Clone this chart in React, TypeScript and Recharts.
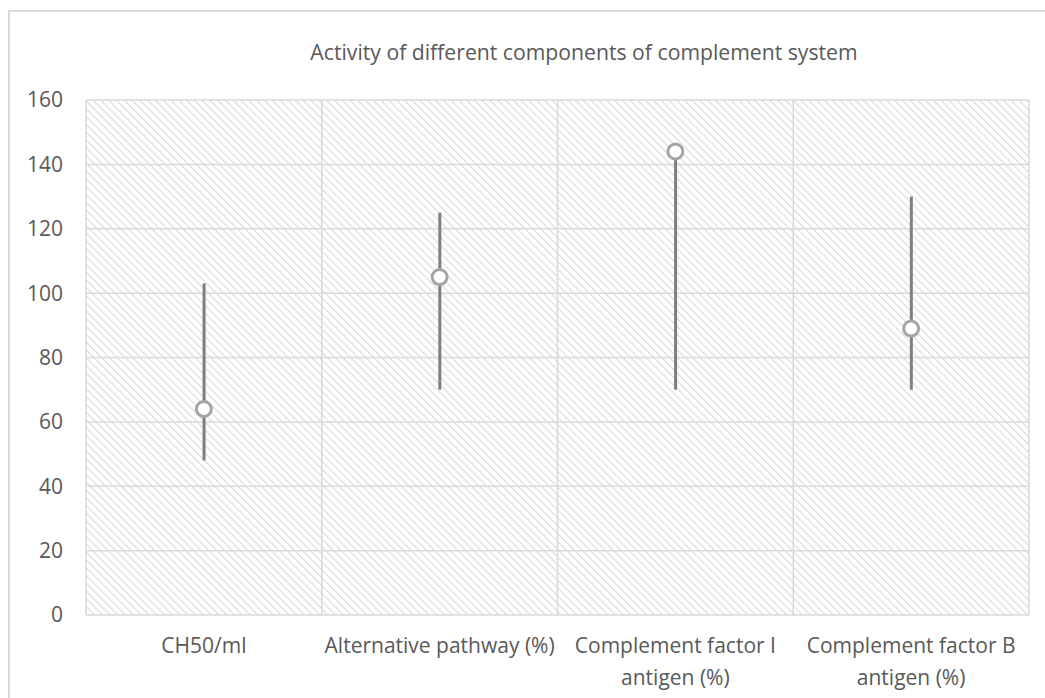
import React from 'react';
import { ComposedChart, Bar, Line, XAxis, YAxis, CartesianGrid } from 'recharts';

const categories = [
  'CH50/ml',
  'Alternative pathway (%)',
  'Complement factor I antigen (%)',
  'Complement factor B antigen (%)',
];
const highValues = [103, 125, 144, 130];
const lowValues = [48, 70, 70, 70];
const meanValues = [64, 105, 144, 89];
const yTicks = [0, 20, 40, 60, 80, 100, 120, 140, 160];

const data = categories.map((name, i) => ({
  name,
  range: [lowValues[i], highValues[i]],
  mean: meanValues[i],
}));

const FONT = "'Open Sans', sans-serif";
const TEXT_COLOR = '#595959';
const GRID_COLOR = '#d9d9d9';
const TICK_SIZE = 21;

let measureCtx: CanvasRenderingContext2D | null = null;
const measure = (s: string) => {
  if (!measureCtx) {
    const c = document.createElement('canvas');
    measureCtx = c.getContext('2d');
  }
  if (!measureCtx) return s.length * TICK_SIZE * 0.5;
  measureCtx.font = `${TICK_SIZE}px 'Open Sans'`;
  return measureCtx.measureText(s).width;
};

const wrap = (s: string, maxW: number) => {
  const words = s.split(' ');
  const lines: string[] = [];
  let cur = '';
  words.forEach((w) => {
    const trial = cur ? cur + ' ' + w : w;
    if (cur && measure(trial) > maxW) {
      lines.push(cur);
      cur = w;
    } else {
      cur = trial;
    }
  });
  if (cur) lines.push(cur);
  return lines;
};

const HighLowShape = (props: any) => {
  const { x, y, width, height } = props;
  if (x == null || y == null) return null;
  const cx = x + width / 2;
  const top = Math.min(y, y + height);
  const bottom = Math.max(y, y + height);
  return <line x1={cx} x2={cx} y1={top} y2={bottom} stroke="#7f7f7f" strokeWidth={3} />;
};

const CategoryTick = (props: any) => {
  const { x, y, payload } = props;
  const lines = wrap(String(payload.value), 240);
  return (
    <text
      x={x}
      y={y}
      textAnchor="middle"
      fill={TEXT_COLOR}
      style={{ fontSize: TICK_SIZE, fontFamily: FONT }}
    >
      {lines.map((l, i) => (
        <tspan key={i} x={x} dy={i === 0 ? 15 : 32}>
          {l}
        </tspan>
      ))}
    </text>
  );
};

const verticalGen = ({ offset }: any) => {
  const n = categories.length;
  const xs: number[] = [];
  for (let i = 0; i <= n; i++) xs.push(offset.left + (offset.width * i) / n);
  return xs;
};

export default function App() {
  return (
    <div
      style={{
        position: 'absolute',
        left: 0,
        top: 0,
        width: 1045,
        height: 698,
        overflow: 'hidden',
        background: '#fff',
        fontFamily: FONT,
      }}
    >
      <div
        style={{
          position: 'absolute',
          left: 8,
          top: 10,
          width: 1100,
          height: 800,
          border: `2px solid ${GRID_COLOR}`,
          boxSizing: 'border-box',
        }}
      />
      <div
        style={{
          position: 'absolute',
          left: 584,
          top: 37,
          transform: 'translateX(-50%)',
          whiteSpace: 'nowrap',
          fontSize: 21.2,
          color: TEXT_COLOR,
          lineHeight: '30px',
          fontFamily: FONT,
        }}
      >
        Activity of different components of complement system
      </div>
      <div style={{ position: 'absolute', left: 0, top: 0 }}>
        <ComposedChart
          width={1045}
          height={698}
          data={data}
          margin={{ top: 100, right: 16, bottom: 3, left: 26 }}
        >
          <defs>
            <pattern
              id="hatch"
              width="5.5"
              height="5.5"
              patternUnits="userSpaceOnUse"
              patternTransform="rotate(-45)"
            >
              <rect width="5.5" height="5.5" fill="#ffffff" />
              <line x1="0" y1="0" x2="0" y2="5.5" stroke="#d6d6d6" strokeWidth="2" />
            </pattern>
          </defs>
          <CartesianGrid
            fill="url(#hatch)"
            stroke={GRID_COLOR}
            strokeWidth={1.5}
            verticalCoordinatesGenerator={verticalGen}
          />
          <XAxis
            dataKey="name"
            axisLine={false}
            tickLine={false}
            tickSize={0}
            tickMargin={23}
            height={80}
            interval={0}
            tick={<CategoryTick />}
          />
          <YAxis
            domain={[0, 160]}
            ticks={yTicks}
            axisLine={false}
            tickLine={false}
            tickSize={0}
            tickMargin={23}
            width={60}
            tick={{ fill: TEXT_COLOR, fontSize: TICK_SIZE, fontFamily: FONT }}
          />
          <Bar dataKey="range" shape={<HighLowShape />} isAnimationActive={false} />
          <Line
            dataKey="mean"
            stroke="transparent"
            strokeWidth={0}
            dot={{ r: 7.5, fill: '#ffffff', stroke: '#a5a5a5', strokeWidth: 3 }}
            activeDot={false}
            isAnimationActive={false}
          />
        </ComposedChart>
      </div>
    </div>
  );
}
